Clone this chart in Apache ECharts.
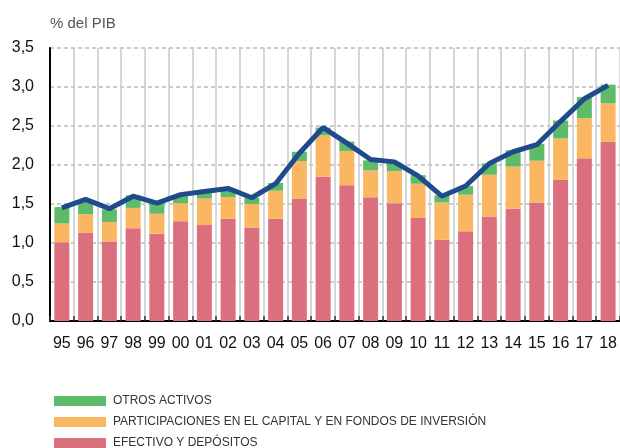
<!DOCTYPE html>
<html>
<head>
<meta charset="utf-8">
<script src="https://cdn.jsdelivr.net/npm/echarts@6/dist/echarts.min.js"></script>
<style>
  html, body { margin: 0; padding: 0; background: #fff; }
  #chart { width: 620px; height: 448px; }
</style>
</head>
<body>
<div id="chart"></div>
<script>
// datos (% del PIB)
var years = ['95','96','97','98','99','00','01','02','03','04','05','06','07','08','09','10','11','12','13','14','15','16','17','18'];
var efectivo = [1.01,1.13,1.02,1.19,1.12,1.28,1.23,1.31,1.20,1.31,1.57,1.85,1.74,1.585,1.51,1.32,1.04,1.15,1.34,1.44,1.52,1.81,2.085,2.295];
var participaciones = [0.24,0.24,0.25,0.26,0.255,0.23,0.34,0.28,0.30,0.36,0.48,0.53,0.44,0.345,0.41,0.44,0.48,0.47,0.535,0.54,0.535,0.53,0.515,0.495];
var otros = [0.21,0.16,0.16,0.16,0.135,0.09,0.07,0.09,0.08,0.10,0.12,0.10,0.12,0.13,0.11,0.11,0.09,0.11,0.145,0.21,0.215,0.23,0.27,0.24];
var total = [1.45,1.56,1.44,1.60,1.51,1.62,1.66,1.70,1.58,1.76,2.15,2.48,2.28,2.07,2.04,1.86,1.60,1.73,2.02,2.17,2.26,2.56,2.85,3.02];

var cRojo = '#db6f7e', cNaranja = '#fbb662', cVerde = '#5dbb6a', cAzul = '#1f4a8c';
var fuente = 'Liberation Sans, Arial, sans-serif';

var myChart = echarts.init(document.getElementById('chart'));

function leyenda(nombre, top) {
	return {
		data : [nombre],
		left : 49,
		top : top,
		itemWidth : 52,
		itemHeight : 10,
		itemGap : 0,
		icon : 'rect',
		selectedMode : false,
		textStyle : { fontFamily : fuente, fontSize : 12, color : '#333', padding : [0, 0, 0, 2] }
	};
}

var option = {
	animation : false,
	title : {
		text : '% del PIB',
		left : 45,
		top : 11,
		textStyle : { fontFamily : fuente, fontSize : 15, fontWeight : 'normal', color : '#555' }
	},
	legend : [
		leyenda('OTROS ACTIVOS', 390),
		leyenda('PARTICIPACIONES EN EL CAPITAL Y EN FONDOS DE INVERSIÓN', 411),
		leyenda('EFECTIVO Y DEPÓSITOS', 432)
	],
	grid : {
		left : 50,
		right : 0,
		top : 48,
		bottom : 127
	},
	xAxis : {
		type : 'category',
		data : years,
		axisLine : { lineStyle : { color : '#000', width : 2 } },
		axisTick : { show : true, inside : true, length : 5, lineStyle : { color : '#333', width : 1.5 } },
		axisLabel : { fontFamily : fuente, fontSize : 16, color : '#111', margin : 15 },
		splitLine : { show : true, lineStyle : { color : '#c8c8c8', width : 1.5 } }
	},
	yAxis : {
		type : 'value',
		min : 0,
		max : 3.5,
		interval : 0.5,
		axisLine : { show : true, lineStyle : { color : '#000', width : 2 } },
		axisTick : { show : false },
		axisLabel : {
			fontFamily : fuente, fontSize : 16, color : '#111', margin : 16,
			formatter : function (v) { return v.toFixed(1).replace('.', ','); }
		},
		splitLine : { lineStyle : { color : '#bbb', width : 1.5, type : [4, 3] } }
	},
	series : [ {
		name : 'EFECTIVO Y DEPÓSITOS',
		type : 'bar',
		stack : 'a',
		barWidth : 15,
		itemStyle : { color : cRojo },
		data : efectivo
	}, {
		name : 'PARTICIPACIONES EN EL CAPITAL Y EN FONDOS DE INVERSIÓN',
		type : 'bar',
		stack : 'a',
		itemStyle : { color : cNaranja },
		data : participaciones
	}, {
		name : 'OTROS ACTIVOS',
		type : 'bar',
		stack : 'a',
		itemStyle : { color : cVerde },
		data : otros
	}, {
		name : 'Total',
		type : 'line',
		symbol : 'none',
		lineStyle : { color : cAzul, width : 5 },
		data : total,
		z : 5
	} ]
};
myChart.setOption(option);
</script>
</body>
</html>
